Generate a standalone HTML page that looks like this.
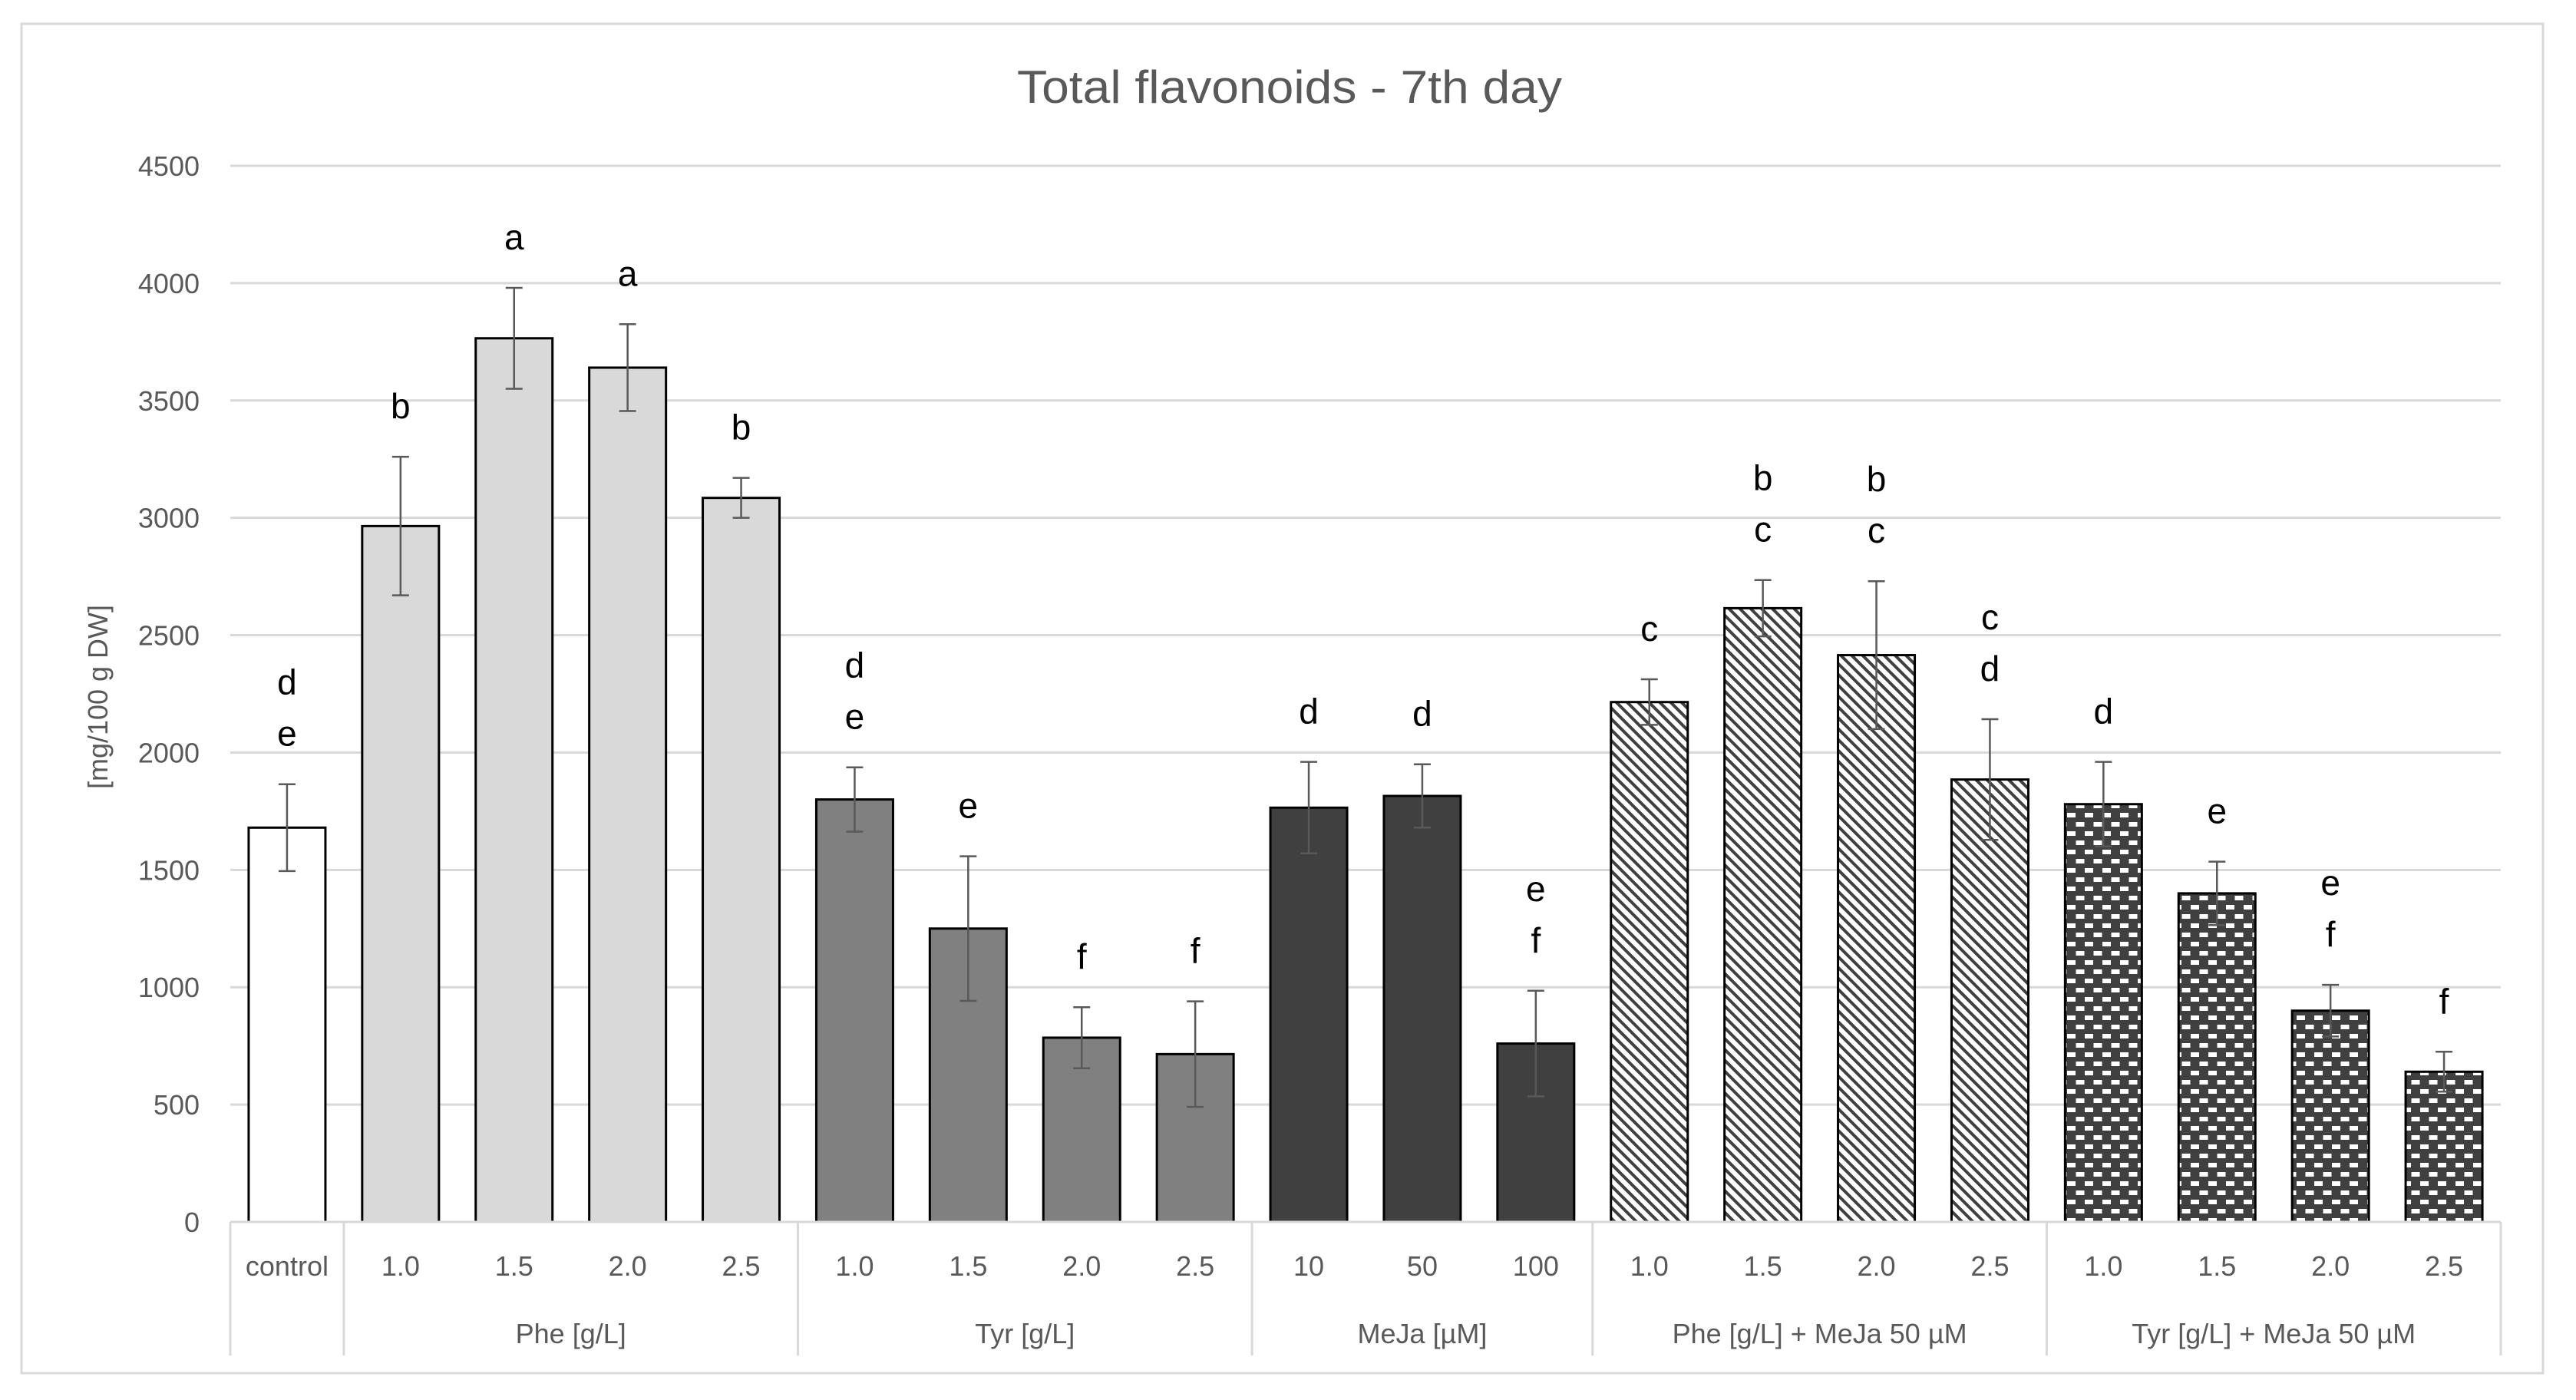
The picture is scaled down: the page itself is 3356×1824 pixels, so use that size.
<!DOCTYPE html>
<html><head><meta charset="utf-8"><style>
html,body{margin:0;padding:0;background:#fff;}
svg{display:block;}
text{font-family:"Liberation Sans",sans-serif;}
</style></head><body>
<svg id="chart" width="3356" height="1824" viewBox="0 0 3356 1824" xmlns="http://www.w3.org/2000/svg">
<defs>
<pattern id="diag" patternUnits="userSpaceOnUse" width="10" height="10" patternTransform="rotate(-45)">
<rect width="10" height="10" fill="#fff"/>
<rect x="0" y="0" width="4" height="10" fill="#404040"/>
</pattern>
<pattern id="brick" patternUnits="userSpaceOnUse" width="23" height="24">
<rect width="23" height="24" fill="#404040"/>
<rect x="2" y="3" width="11" height="6" fill="#fff"/>
<rect x="13.5" y="15" width="11" height="6" fill="#fff"/>
<rect x="-9.5" y="15" width="11" height="6" fill="#fff"/>
</pattern>
</defs>
<rect x="28" y="31" width="3285" height="1758" fill="#fff" stroke="#d9d9d9" stroke-width="3"/>
<text x="1680" y="134" font-size="60" fill="#595959" text-anchor="middle" textLength="710" lengthAdjust="spacingAndGlyphs">Total flavonoids - 7th day</text>
<text transform="translate(140,908) rotate(-90)" font-size="36" fill="#595959" text-anchor="middle">[mg/100 g DW]</text>
<g id="grid"></g><g id="bars"></g><g id="axis"></g>
</svg>
<script>
const categories=["control","1.0","1.5","2.0","2.5","1.0","1.5","2.0","2.5","10","50","100","1.0","1.5","2.0","2.5","1.0","1.5","2.0","2.5"];
const values=[1680,2965,3765,3640,3085,1800,1250,785,715,1765,1815,760,2215,2615,2415,1885,1780,1400,900,640];
const errors=[185,295,215,185,85,137,308,130,225,195,135,225,97,120,315,257,180,135,110,85];
const letters=[["d","e"],["b"],["a"],["a"],["b"],["d","e"],["e"],["f"],["f"],["d"],["d"],["e","f"],["c"],["b","c"],["b","c"],["c","d"],["d"],["e"],["e","f"],["f"]];
const groupNames=["","Phe [g/L]","Tyr [g/L]","MeJa [µM]","Phe [g/L] + MeJa 50 µM","Tyr [g/L] + MeJa 50 µM"];
const groupSizes=[1,4,4,3,4,4];
const yTicks=[0,500,1000,1500,2000,2500,3000,3500,4000,4500];
const groupFills=["#ffffff","#d9d9d9","#808080","#404040","url(#diag)","url(#brick)"];
const NS="http://www.w3.org/2000/svg";
const X0=300,X1=3258,Y0=1592,Y1=216,YMAX=4500;
const bw=(X1-X0)/categories.length;
const y=v=>Y0-(v/YMAX)*(Y0-Y1);
const xc=i=>X0+bw*(i+0.5);
function mk(tag,attrs,parent){const e=document.createElementNS(NS,tag);for(const k in attrs)e.setAttribute(k,attrs[k]);parent.appendChild(e);return e;}
const grid=document.getElementById('grid'),bars=document.getElementById('bars'),axis=document.getElementById('axis');
yTicks.forEach(t=>{
  if(t>0){const l=mk('line',{x1:X0,x2:X1,y1:y(t),y2:y(t),stroke:'#d9d9d9','stroke-width':3},grid);
  
  }
  const tx=mk('text',{x:260,y:y(t)+13,'font-size':36,fill:'#595959','text-anchor':'end'},axis);
  tx.textContent=t;
  
  
});
let gi=[];groupSizes.forEach((s,g)=>{for(let k=0;k<s;k++)gi.push(g);});
categories.forEach((c,i)=>{
  const w=100,x=xc(i)-w/2;
  const r=mk('rect',{x:x,y:y(values[i]),width:w,height:Y0-y(values[i]),fill:groupFills[gi[i]],stroke:'#000','stroke-width':3},bars);
  
  
  const top=y(values[i]+errors[i]),bot=y(values[i]-errors[i]);
  const eb=mk('path',{d:`M${xc(i)},${top}V${bot}M${xc(i)-11},${top}h22M${xc(i)-11},${bot}h22`,stroke:'#595959','stroke-width':2.5,fill:'none'},bars);
  
  
  const L=letters[i];
  L.forEach((s,j)=>{
    const t=mk('text',{x:xc(i),y:top-50-(L.length-1-j)*67,'font-size':46,fill:'#000','text-anchor':'middle'},bars);
    t.textContent=s;
    
    
  });
  const tl=mk('text',{x:xc(i),y:1662,'font-size':36,fill:'#595959','text-anchor':'middle'},axis);
  tl.textContent=c;
  
  
});
const ax=mk('line',{x1:X0,x2:X1,y1:Y0,y2:Y0,stroke:'#d9d9d9','stroke-width':3},axis);


let start=0;
const sepL=mk('line',{x1:X0,x2:X0,y1:Y0,y2:1766,stroke:'#d9d9d9','stroke-width':3},axis);


groupSizes.forEach((s,g)=>{
  const end=start+s;const xe=X0+bw*end;
  const sp=mk('line',{x1:xe,x2:xe,y1:Y0,y2:1766,stroke:'#d9d9d9','stroke-width':3},axis);
  
  
  if(groupNames[g]){
    const gt=mk('text',{x:X0+bw*(start+s/2),y:1750,'font-size':36,fill:'#595959','text-anchor':'middle'},axis);
    gt.textContent=groupNames[g];
    
    
  }
  start=end;
});
</script>
</body></html>
